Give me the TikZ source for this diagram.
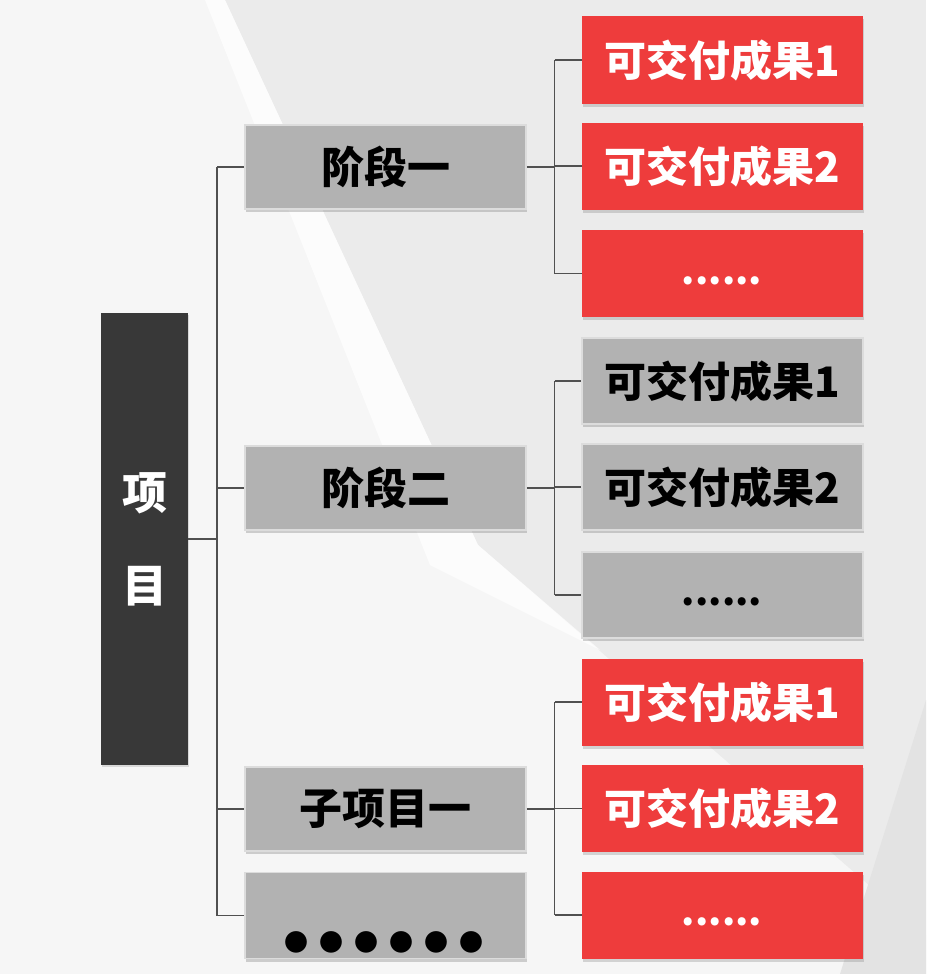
\documentclass[tikz,border=0pt]{standalone}
\usepackage{fontspec}
\newfontfamily\cjk{Noto Sans CJK SC}
\usetikzlibrary{shadows}
\definecolor{bgg}{HTML}{EBEBEB}
\definecolor{bgw}{HTML}{F6F6F6}
\definecolor{boxg}{HTML}{B2B2B2}
\definecolor{boxgb}{HTML}{DCDCDC}
\definecolor{boxr}{HTML}{EE3C3C}
\definecolor{dark}{HTML}{383838}
\definecolor{lin}{HTML}{505050}
\tikzset{
  lvtwo/.style={rectangle, fill=boxg, draw=boxgb, line width=1.6pt,
    minimum width=281pt, minimum height=84pt, inner sep=0pt,
    font=\cjk\bfseries\fontsize{43}{50}\selectfont, text=black,
    drop shadow={opacity=0.35, shadow xshift=1pt, shadow yshift=-3pt}},
  redbox/.style={rectangle, fill=boxr, draw=none,
    minimum width=281pt, minimum height=87pt, inner sep=0pt,
    font=\cjk\bfseries\fontsize{42}{48}\selectfont, text=white,
    drop shadow={opacity=0.3, shadow xshift=1pt, shadow yshift=-3pt}},
  graybox/.style={lvtwo, minimum height=86pt, font=\cjk\bfseries\fontsize{42}{48}\selectfont},
  root/.style={rectangle, fill=dark, draw=none, minimum width=87pt,
    minimum height=452pt, inner sep=0pt, text=white, align=center,
    font=\cjk\bfseries\fontsize{45}{93}\selectfont,
    drop shadow={opacity=0.25, shadow xshift=1pt, shadow yshift=-2pt}},
  conn/.style={draw=lin, line width=1.1pt},
  dotstxt/.style={font=\cjk\bfseries\fontsize{38}{40}\selectfont, inner sep=0pt},
}
\begin{document}
\begin{tikzpicture}[x=1pt, y=-1pt]
\useasboundingbox (0,0) rectangle (926,974);
% background
\fill[bgg] (0,0) rectangle (926,974);
\fill[bgw] (0,0) -- (225,0) -- (478,545) -- (926,935) -- (926,974) -- (0,974) -- cycle;
\fill[white, opacity=0.7] (205,0) -- (225,0) -- (478,545) -- (600,650) -- (430,565) -- cycle;
\fill[black!11] (926,700) -- (926,974) -- (840,974) -- cycle;

% root
\node[root] (p) at (144.5,539) {项\\目};

% level 2
\node[lvtwo] (s1) at (385.5,167) {阶段一};
\node[lvtwo] (s2) at (385.5,488) {阶段二};
\node[lvtwo] (s3) at (385.5,809) {子项目一};
\node[graybox] (s4) at (385.5,915.5) {};
\node[font=\cjk\fontsize{24}{26}\selectfont, inner sep=0pt] (s4d) at (384,942)
  {●\kern11pt●\kern11pt●\kern11pt●\kern11pt●\kern11pt●};

% level 3
\node[redbox] (a1) at (722.5,60)  {可交付成果1};
\node[redbox] (a2) at (722.5,166) {可交付成果2};
\node[redbox] (a3) at (722.5,273.5) {};
\node[text=white, dotstxt] (a3d) at (722,281) {......};
\node[graybox] (b1) at (722.5,381) {可交付成果1};
\node[graybox] (b2) at (722.5,487) {可交付成果2};
\node[graybox] (b3) at (722.5,595) {};
\node[text=black, dotstxt] (b3d) at (722,602) {......};
\node[redbox] (c1) at (722.5,702) {可交付成果1};
\node[redbox] (c2) at (722.5,808.5) {可交付成果2};
\node[redbox] (c3) at (722.5,915) {};
\node[text=white, dotstxt] (c3d) at (722,922) {......};

% connectors root -> level 2
\coordinate (t0) at (217,539);
\coordinate (t1) at (217,167);
\coordinate (t4) at (217,915.5);
\draw[conn] (p.east |- t0) -- (t0);
\draw[conn] (t1) -- (t4);
\draw[conn] (t1) -- (s1.west);
\draw[conn] (t1 |- s2.west) -- (s2.west);
\draw[conn] (t1 |- s3.west) -- (s3.west);
\draw[conn] (t4) -- (s4.west);

% level 2 -> level 3
\foreach \s/\x/\y/\z in {s1/a1/a2/a3, s2/b1/b2/b3, s3/c1/c2/c3}{
  \coordinate (m\s) at ([xshift=28pt]\s.east);
  \draw[conn] (\s.east) -- (m\s);
  \draw[conn] (m\s |- \x.west) -- (m\s |- \z.west);
  \draw[conn] (m\s |- \x.west) -- (\x.west);
  \draw[conn] (m\s |- \y.west) -- (\y.west);
  \draw[conn] (m\s |- \z.west) -- (\z.west);
}
\end{tikzpicture}
\end{document}
